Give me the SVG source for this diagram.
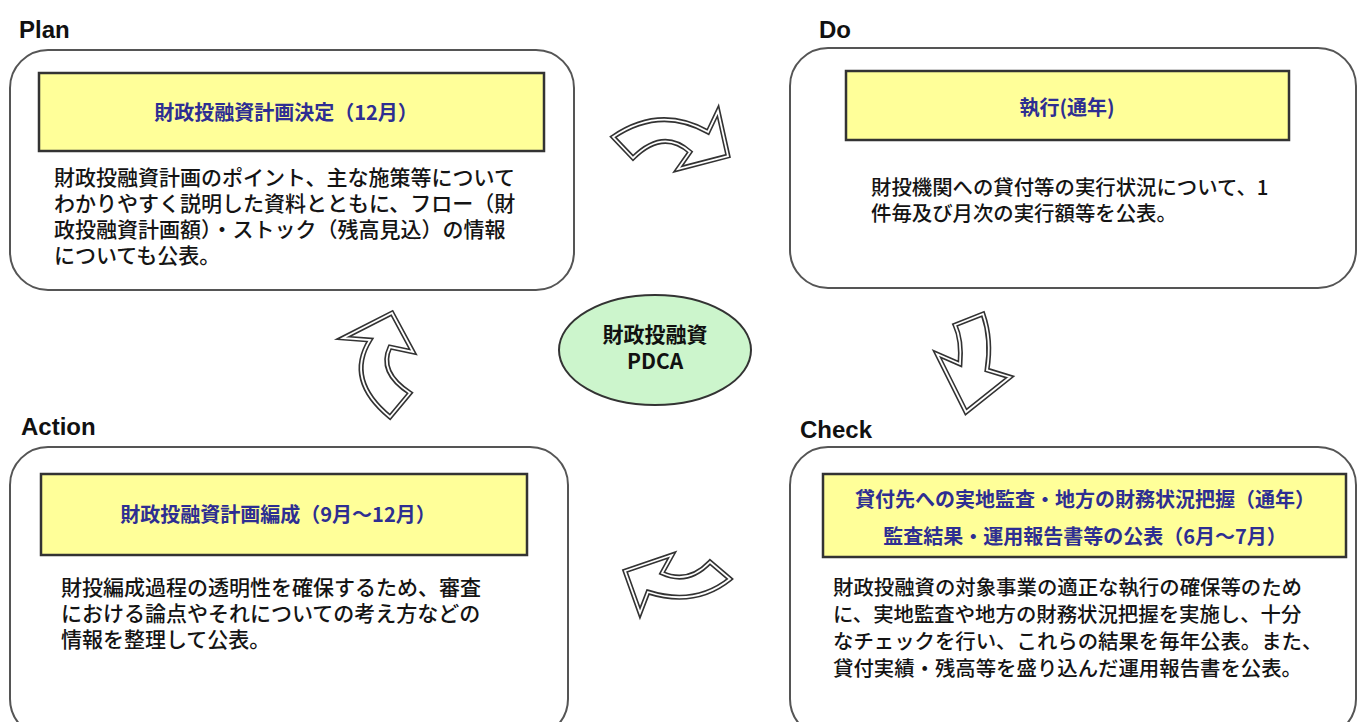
<svg xmlns="http://www.w3.org/2000/svg" xmlns:xlink="http://www.w3.org/1999/xlink" width="1359" height="722" viewBox="0 0 1359 722">
<style>
.frame{fill:#fff;stroke:#555;stroke-width:2}
.ybox{fill:#ffff99;stroke:#333;stroke-width:2.5}
.label{font-family:"Liberation Sans",Arial,sans-serif;font-weight:bold;font-size:24px;fill:#111}
.title{font-family:"Noto Sans CJK JP",sans-serif;font-weight:bold;font-size:20px;fill:#2e2e92;text-anchor:middle}
.body{font-family:"Noto Sans CJK JP",sans-serif;font-weight:500;font-size:21px;fill:#141414}
.body2{font-family:"Noto Sans CJK JP",sans-serif;font-weight:500;font-size:20.4px;fill:#141414}
.arw{fill:#fff;stroke:#333;stroke-width:5;stroke-linejoin:miter}
.arwi{fill:none;stroke:#fff;stroke-width:1.8;stroke-linejoin:miter}
.center{font-family:"Noto Sans CJK JP",sans-serif;font-weight:bold;font-size:21px;fill:#111;text-anchor:middle}
</style>
<defs>
<path id="a1" d="M613,137 Q660,105 708,132 L718,111 L728,156 L678,169 L690,152 Q663,128 633,158 Z"/>
<path id="a2" d="M955,325 L983,314 Q992,340 987,370 L1010,377 L966,412 L937,354 L960,364 Q962,340 955,325 Z"/>
<path id="a3" d="M730,579 L710,562 Q688,585 662,573 L672,555 L625,571 L640,613 L648,592 Q695,607 730,579 Z"/>
<path id="a4" d="M390,417 Q345,380 370,340 L343,338 L392,313 L413,352 L390,347 Q378,372 410,393 Z"/>
</defs>
<rect width="1359" height="722" fill="#fff"/>

<g id="plan">
<text class="label" x="19" y="38">Plan</text>
<rect class="frame" x="10" y="50" width="564" height="240" rx="38"/>
<rect class="ybox" x="39" y="73" width="505" height="78"/>
<text class="title" x="286" y="120">財政投融資計画決定（12月）</text>
<text class="body" x="54" y="185">財政投融資計画のポイント、主な施策等について</text>
<text class="body" x="54" y="211">わかりやすく説明した資料とともに、フロー（財</text>
<text class="body" x="54" y="237">政投融資計画額）・ストック（残高見込）の情報</text>
<text class="body" x="54" y="263">についても公表。</text>
</g>

<g id="do">
<text class="label" x="819" y="38">Do</text>
<rect class="frame" x="790" y="48" width="566" height="240" rx="38"/>
<rect class="ybox" x="846" y="71" width="443" height="69"/>
<text class="title" x="1067" y="115">執行(通年)</text>
<text class="body2" x="871" y="195">財投機関への貸付等の実行状況について、1</text>
<text class="body2" x="871" y="221">件毎及び月次の実行額等を公表。</text>
</g>

<g id="check">
<text class="label" x="800" y="438">Check</text>
<rect class="frame" x="790" y="447" width="566" height="290" rx="38"/>
<rect class="ybox" x="823" y="474" width="523" height="83"/>
<text class="title" x="1085" y="507">貸付先への実地監査・地方の財務状況把握（通年）</text>
<text class="title" x="1085" y="544">監査結果・運用報告書等の公表（6月～7月）</text>
<text class="body2" x="833" y="595">財政投融資の対象事業の適正な執行の確保等のため</text>
<text class="body2" x="833" y="622">に、実地監査や地方の財務状況把握を実施し、十分</text>
<text class="body2" x="833" y="649">なチェックを行い、これらの結果を毎年公表。また、</text>
<text class="body2" x="833" y="676">貸付実績・残高等を盛り込んだ運用報告書を公表。</text>
</g>

<g id="action">
<text class="label" x="21" y="435">Action</text>
<rect class="frame" x="10" y="447" width="558" height="290" rx="38"/>
<rect class="ybox" x="41" y="474" width="486" height="81"/>
<text class="title" x="278" y="522">財政投融資計画編成（9月～12月）</text>
<text class="body" x="61" y="595">財投編成過程の透明性を確保するため、審査</text>
<text class="body" x="61" y="621">における論点やそれについての考え方などの</text>
<text class="body" x="61" y="647">情報を整理して公表。</text>
</g>

<g id="pdca">
<ellipse cx="655" cy="350" rx="96" ry="55" fill="#ccf5cc" stroke="#333" stroke-width="2"/>
<text class="center" x="655" y="342">財政投融資</text>
<text class="center" x="655" y="369" font-family="Liberation Sans, Arial, sans-serif">PDCA</text>
</g>

<g id="connectors">
<use xlink:href="#a1" class="arw"/><use xlink:href="#a1" class="arwi"/>
<use xlink:href="#a2" class="arw"/><use xlink:href="#a2" class="arwi"/>
<use xlink:href="#a3" class="arw"/><use xlink:href="#a3" class="arwi"/>
<use xlink:href="#a4" class="arw"/><use xlink:href="#a4" class="arwi"/>
</g>
</svg>
